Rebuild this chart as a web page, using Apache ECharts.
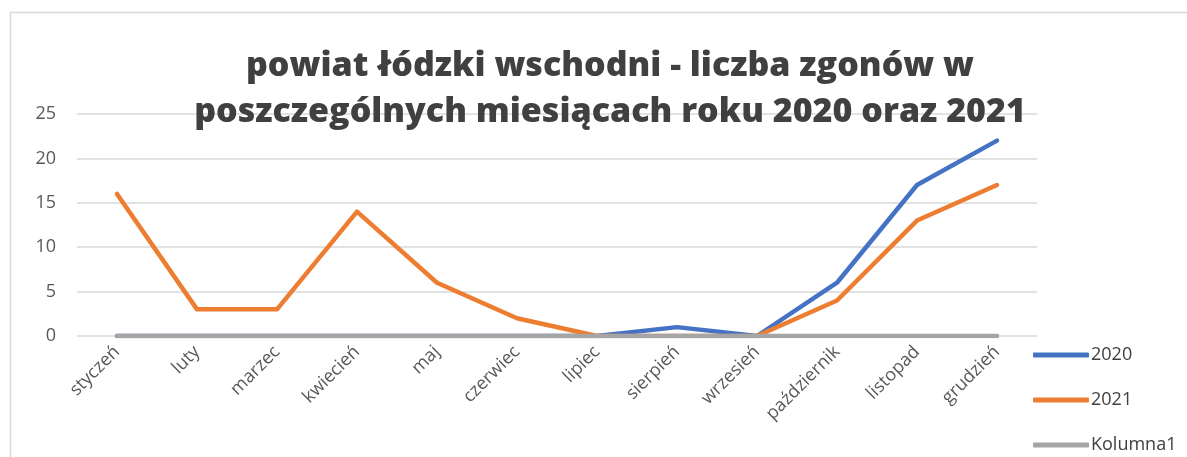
<!DOCTYPE html>
<html>
<head>
<meta charset="UTF-8">
<title>powiat łódzki wschodni</title>
<script src="https://cdn.jsdelivr.net/npm/echarts@6/dist/echarts.min.js"></script>
<style>
  html, body { margin: 0; padding: 0; background: #fff; }
</style>
</head>
<body>
<div id="chart" style="width:1187px;height:457px;"></div>
<script type="text/javascript">
    // miesiące i wartości
    var miesiace = ['styczeń', 'luty', 'marzec', 'kwiecień', 'maj', 'czerwiec', 'lipiec', 'sierpień', 'wrzesień', 'październik', 'listopad', 'grudzień'];
    var rok2020 = [0, 0, 0, 0, 0, 0, 0, 1, 0, 6, 17, 22];
    var rok2021 = [16, 3, 3, 14, 6, 2, 0, 0, 0, 4, 13, 17];
    var kolumna1 = [0, 0, 0, 0, 0, 0, 0, 0, 0, 0, 0, 0];

    var chart = echarts.init(document.getElementById('chart'));

    function linia(name, data, color) {
        return {
            name: name,
            type: 'line',
            data: data,
            symbol: 'none',
            lineStyle: { width: 4.5, color: color, cap: 'round', join: 'round' },
            itemStyle: { color: color },
            emphasis: { disabled: true }
        };
    }

    var option = {
        animation: false,
        textStyle: { fontFamily: 'Open Sans' },
        title: {
            text: 'powiat łódzki wschodni - liczba zgonów w\nposzczególnych miesiącach roku 2020 oraz 2021',
            left: 605,
            top: 38,
            textAlign: 'center',
            textStyle: { fontSize: 34, fontWeight: 900, color: '#404040', lineHeight: 46, fontFamily: 'Open Sans' }
        },
        graphic: [{
            type: 'rect',
            shape: { x: 10.5, y: 12.5, width: 1300, height: 500 },
            style: { fill: 'none', stroke: '#d9d9d9', lineWidth: 1.5 },
            silent: true
        }],
        legend: {
            orient: 'vertical',
            left: 1033,
            top: 345,
            padding: 0,
            itemGap: 25,
            itemWidth: 56,
            itemHeight: 5,
            icon: 'roundRect',
            data: ['2020', '2021', 'Kolumna1'],
            textStyle: { fontSize: 18, lineHeight: 20, color: '#404040', padding: [0, 0, 0, -3] }
        },
        grid: { left: 77, top: 114, width: 960, height: 222, containLabel: false },
        xAxis: {
            type: 'category',
            data: miesiace,
            boundaryGap: true,
            axisLine: { show: false },
            axisTick: { show: false },
            axisLabel: { rotate: 45, fontSize: 18, color: '#595959', margin: 13, interval: 0 }
        },
        yAxis: {
            type: 'value',
            min: 0,
            max: 25,
            interval: 5,
            axisLabel: { fontSize: 18, color: '#595959', margin: 21 },
            splitLine: { lineStyle: { color: '#d9d9d9', width: 1.5 } }
        },
        series: [
            linia('2020', rok2020, '#4472C4'),
            linia('2021', rok2021, '#ED7D31'),
            linia('Kolumna1', kolumna1, '#A5A5A5')
        ]
    };
    chart.setOption(option);
</script>
</body>
</html>
